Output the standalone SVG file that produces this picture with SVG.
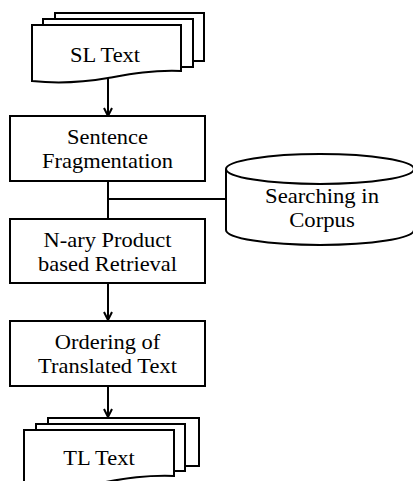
<svg xmlns="http://www.w3.org/2000/svg" width="413" height="481" viewBox="0 0 413 481">
<style>
.s{fill:#fff;stroke:#000;stroke-width:2}
.c{fill:none;stroke:#000;stroke-width:2}
</style>
<defs>
<marker id="arr" viewBox="0 0 10 10" refX="9" refY="5" markerWidth="10" markerHeight="10" orient="auto" markerUnits="userSpaceOnUse">
<path d="M1,1 L9,5 L1,9" fill="none" stroke="#000" stroke-width="2"/>
</marker>
</defs>
<rect width="413" height="481" fill="#fff"/>
<g id="connectors">
<line class="c" x1="108" y1="78" x2="108" y2="116" marker-end="url(#arr)"/>
<line class="c" x1="108" y1="181" x2="108" y2="219"/>
<line class="c" x1="108" y1="199" x2="226" y2="199"/>
<line class="c" x1="108" y1="283" x2="108" y2="320" marker-end="url(#arr)"/>
<line class="c" x1="108" y1="386" x2="108" y2="417" marker-end="url(#arr)"/>
</g>
<g font-family="'Liberation Serif', 'Times New Roman', serif" font-size="21" text-anchor="middle" fill="#000">
<g id="sl-text">
<rect class="s" x="55" y="13" width="149" height="48"/>
<rect class="s" x="43" y="19" width="150" height="48"/>
<path class="s" d="M32,25 H181 V71 C150,70 130,74 108,78 C85,82 60,84 32,81 Z"/>
<text transform="translate(105,62) scale(1.07,1)">SL Text</text>
</g>
<g id="sentence-fragmentation">
<rect class="s" x="10" y="116" width="195" height="65"/>
<text transform="translate(107.5,144) scale(1.07,1)">Sentence</text>
<text transform="translate(107.5,168) scale(1.07,1)">Fragmentation</text>
</g>
<g id="corpus">
<path class="s" d="M226,169 V230 A94,15 0 0 0 414,230 V169"/>
<ellipse class="s" cx="320" cy="169" rx="94" ry="15"/>
<text transform="translate(322,203) scale(1.08,1)">Searching in</text>
<text transform="translate(322,227) scale(1.08,1)">Corpus</text>
</g>
<g id="nary-retrieval">
<rect class="s" x="10" y="219" width="195" height="64"/>
<text transform="translate(107.5,247) scale(1.07,1)">N-ary Product</text>
<text transform="translate(107.5,271) scale(1.07,1)">based Retrieval</text>
</g>
<g id="ordering">
<rect class="s" x="10" y="321" width="195" height="65"/>
<text transform="translate(107.5,349) scale(1.07,1)">Ordering of</text>
<text transform="translate(107.5,373) scale(1.07,1)">Translated Text</text>
</g>
<g id="tl-text">
<rect class="s" x="48" y="418" width="151" height="48"/>
<rect class="s" x="36" y="424" width="149" height="47"/>
<path class="s" d="M24,430 H174 V476 C143,475 123,479 100,483 C77,487 52,489 24,486 Z"/>
<text transform="translate(99,465) scale(1.07,1)">TL Text</text>
</g>
</g>
</svg>
